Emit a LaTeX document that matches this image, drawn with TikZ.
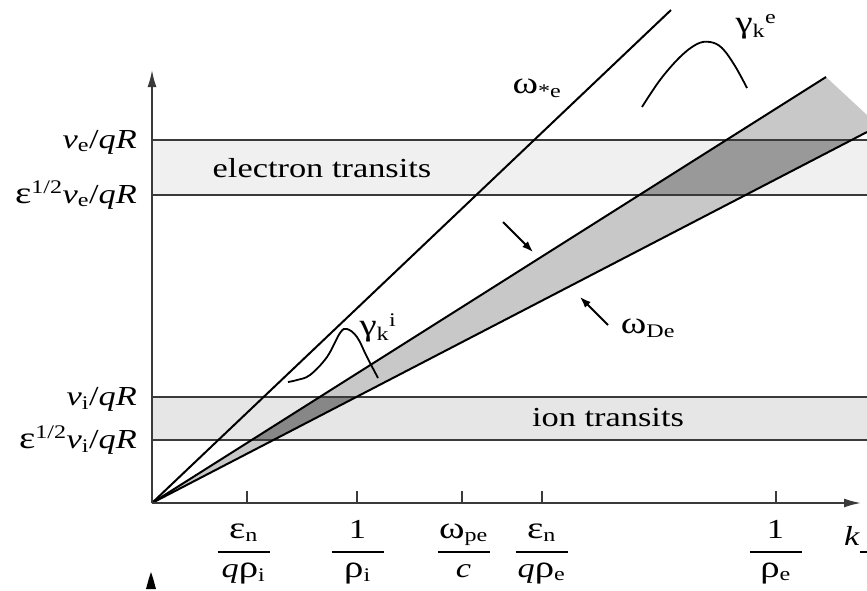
\documentclass[tikz,border=0pt]{standalone}
\usepackage{fontspec}
\setmainfont{Liberation Serif}[FakeStretch=1.25]
\usetikzlibrary{arrows.meta}
\definecolor{bandE}{HTML}{F0F0F0}
\definecolor{bandI}{HTML}{E6E6E6}
\definecolor{wedgec}{HTML}{C8C8C8}
\definecolor{darkE}{HTML}{999999}
\definecolor{darkI}{HTML}{878787}
\definecolor{axisc}{HTML}{3A3A3A}
\newcommand{\sbs}[1]{\textsubscript{#1}}
\newcommand{\sps}[1]{\textsuperscript{#1}}
\newcommand{\gk}[1]{{\fontsize{31}{34}\selectfont #1}}
\begin{document}
\begin{tikzpicture}[x=1pt,y=-1pt,
  font=\fontsize{27.5}{32}\selectfont,
  bandline/.style={line width=1.5pt, draw=axisc},
  mainline/.style={line width=2pt, draw=black},
  axisline/.style={line width=1.8pt, draw=axisc, -{Latex[length=17pt,width=9pt]}},
  tickline/.style={line width=1.4pt, draw=axisc},
  fracbar/.style={line width=1.4pt, draw=black},
  ptr/.style={line width=1.8pt, -{Latex[length=11pt,width=8pt]}},
  curve/.style={line width=1.8pt},
  lab/.style={inner sep=0pt, anchor=base east},
  txt/.style={inner sep=0pt}]
\useasboundingbox (0,0) rectangle (867,590);
% key points
\coordinate (O) at (152,503);
\coordinate (Ytop) at (152,70);
\coordinate (Xend) at (861,503);
\coordinate (W) at (671,10);
\coordinate (U) at (826,77);
\coordinate (UR) at (867,115);
\coordinate (L) at (867,132);
\coordinate (E1a) at (152,140); \coordinate (E1b) at (867,140);
\coordinate (E2a) at (152,195); \coordinate (E2b) at (867,195);
\coordinate (I1a) at (152,397); \coordinate (I1b) at (867,397);
\coordinate (I2a) at (152,440); \coordinate (I2b) at (867,440);
% bands
\fill[bandE] (E1a) rectangle (E2b);
\fill[bandI] (I1a) rectangle (I2b);
% wedge
\fill[wedgec] (O) -- (U) -- (UR) -- (L) -- cycle;
\begin{scope}
  \clip (O) -- (U) -- (UR) -- (L) -- cycle;
  \fill[darkE] (E1a) rectangle (E2b);
  \fill[darkI] (I1a) rectangle (I2b);
\end{scope}
% band lines
\draw[bandline] (E1a) -- (E1b);
\draw[bandline] (E2a) -- (E2b);
\draw[bandline] (I1a) -- (I1b);
\draw[bandline] (I2a) -- (I2b);
% main lines
\draw[mainline] (O) -- (W);
\draw[mainline] (O) -- (U);
\draw[mainline] (O) -- (L);
% axes
\draw[axisline] (O) -- (Ytop);
\draw[axisline] (O) -- (Xend);
\fill[black] (146,589) -- (149,578) -- (151,572) -- (153,578) -- (156,589) -- cycle;
% ticks
\foreach \tx in {247,357,462,542,776}
  \draw[tickline] (\tx,503) -- (\tx,491);
% left labels
\node[lab] (ve) at (137,148) {\textit{v}\sbs{e}/\textit{qR}};
\node[lab] (eve) at (137,203) {\gk{ε}\sps{1/2}\textit{v}\sbs{e}/\textit{qR}};
\node[lab] (vi) at (137,405) {\textit{v}\sbs{i}/\textit{qR}};
\node[lab] (evi) at (137,448) {\gk{ε}\sps{1/2}\textit{v}\sbs{i}/\textit{qR}};
% band labels
\node[txt] (et) at (322,168) {electron transits};
\node[txt] (it) at (608,418) {ion transits};
% fractions
\foreach \cx/\nm/\num/\den in {243.5/f1/{\gk{ε}\sbs{n}}/{\textit{q}\gk{ρ}\sbs{i}},
                             357.5/f2/{1}/{\gk{ρ}\sbs{i}},
                             463.5/f3/{\gk{ω}\sbs{pe}}/{\textit{c}},
                             541.5/f4/{\gk{ε}\sbs{n}}/{\textit{q}\gk{ρ}\sbs{e}},
                             775.5/f5/{1}/{\gk{ρ}\sbs{e}}}{
  \draw[fracbar] (\cx-26,552) -- (\cx+26,552);
  \node[txt, anchor=base] (\nm n) at (\cx,538) {\num};
  \node[txt, anchor=base] (\nm d) at (\cx,577) {\den};
}
\node[txt, anchor=base west] (k) at (844,545) {\textit{k}};
\draw[fracbar] (860,552) -- (867,552);
% line labels
\node[txt] (wse) at (537,88) {\gk{ω}\sbs{*e}};
\node[txt] (wde) at (648,328) {\gk{ω}\sbs{De}};
\node[txt] (gke) at (756,27) {\gk{γ}\sbs{k}\sps{e}};
\node[txt] (gki) at (378,328) {\gk{γ}\sbs{k}\sps{i}};
% pointer arrows
\coordinate (p1a) at (503,222); \coordinate (p1b) at (533,252);
\coordinate (p2a) at (608,325); \coordinate (p2b) at (580,297);
\draw[ptr] (p1a) -- (p1b);
\draw[ptr] (p2a) -- (p2b);
% growth-rate curves
\draw[curve] plot[smooth, tension=0.6] coordinates {(642,107) (660,80) (680,57) (697,44) (710,42) (722,48) (735,66) (747,88)};
\draw[curve] plot[smooth, tension=0.6] coordinates {(288,382) (297,380) (310,375) (327,357) (340,333) (347,329) (357,337) (367,357) (378,378)};
\end{tikzpicture}
\end{document}
